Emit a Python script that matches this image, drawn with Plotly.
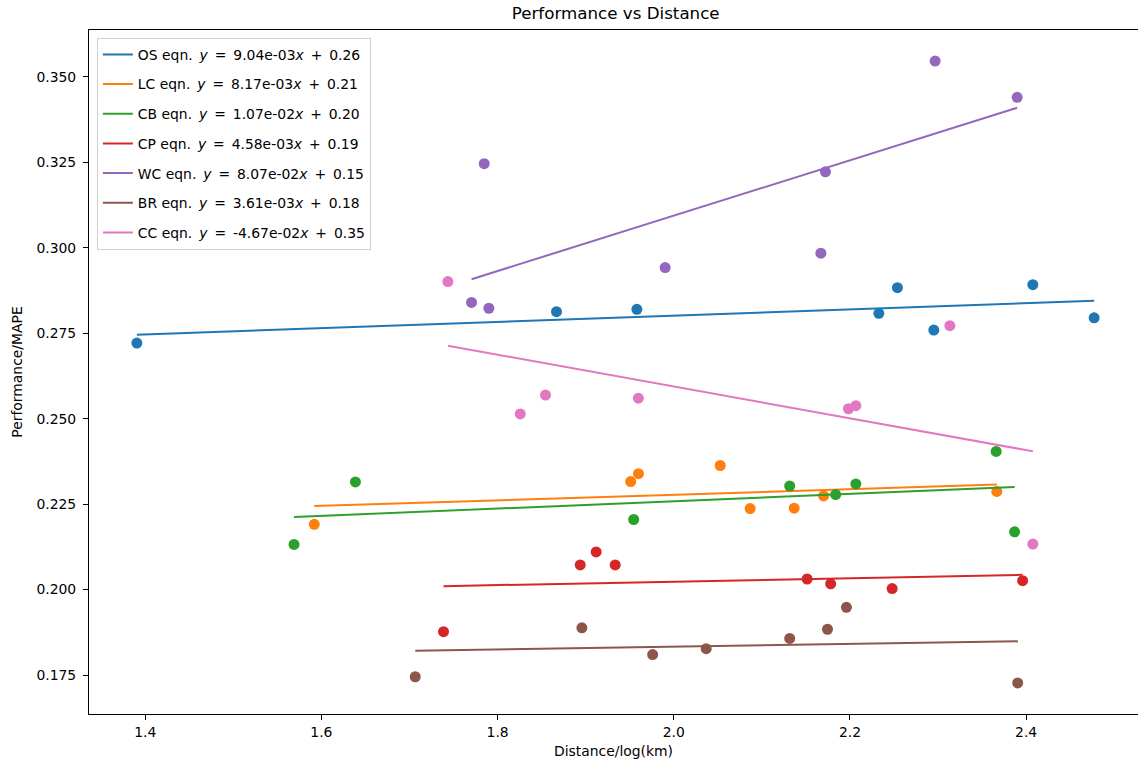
import numpy as np
import plotly.graph_objects as go

# ---- data ----
series_names = ["OS", "LC", "CB", "CP", "WC", "BR", "CC"]
series_colors = ["#1f77b4", "#ff7f0e", "#2ca02c", "#d62728", "#9467bd", "#8c564b", "#e377c2"]
eq_slopes_txt = ["9.04e-03", "8.17e-03", "1.07e-02", "4.58e-03", "8.07e-02", "3.61e-03", "-4.67e-02"]
eq_icept_txt = ["0.26", "0.21", "0.20", "0.19", "0.15", "0.18", "0.35"]

os_x = [1.3905, 1.8669, 1.9581, 2.2328, 2.2539, 2.2952, 2.4076, 2.4772]
os_y = [0.2721, 0.2813, 0.2820, 0.2808, 0.2883, 0.2759, 0.2892, 0.2795]

lc_x = [1.5919, 1.9511, 1.9599, 2.0527, 2.0867, 2.1367, 2.1701, 2.3667]
lc_y = [0.2191, 0.2316, 0.2339, 0.2363, 0.2237, 0.2238, 0.2274, 0.2287]

cb_x = [1.5689, 1.6386, 1.9545, 2.1316, 2.1838, 2.2067, 2.3660, 2.3869]
cb_y = [0.2132, 0.2315, 0.2205, 0.2303, 0.2278, 0.2309, 0.2404, 0.2169]

cp_x = [1.7386, 1.8938, 1.9119, 1.9335, 2.1514, 2.1781, 2.2479, 2.3960]
cp_y = [0.1877, 0.2072, 0.2110, 0.2072, 0.2031, 0.2017, 0.2003, 0.2026]

wc_x = [1.7704, 1.7848, 1.7901, 1.9902, 2.1670, 2.1722, 2.2967, 2.3898]
wc_y = [0.2840, 0.3246, 0.2823, 0.2942, 0.2984, 0.3222, 0.3546, 0.3440]

br_x = [1.7065, 1.8957, 1.9760, 2.0368, 2.1316, 2.1745, 2.1960, 2.3904]
br_y = [0.1745, 0.1888, 0.1810, 0.1827, 0.1857, 0.1884, 0.1948, 0.1727]

cc_x = [1.7436, 1.8257, 1.8544, 1.9598, 2.1983, 2.2067, 2.3134, 2.4076]
cc_y = [0.2901, 0.2514, 0.2569, 0.2560, 0.2529, 0.2538, 0.2772, 0.2133]

x_tick_vals = [1.4, 1.6, 1.8, 2.0, 2.2, 2.4]
y_tick_vals = [0.175, 0.200, 0.225, 0.250, 0.275, 0.300, 0.325, 0.350]

all_x = [os_x, lc_x, cb_x, cp_x, wc_x, br_x, cc_x]
all_y = [os_y, lc_y, cb_y, cp_y, wc_y, br_y, cc_y]

SP = "\u2002"
legend_labels = [f"{n} eqn.{SP}<i>y</i>{SP}={SP}{s}<i>x</i>{SP}+{SP}{b}"
                 for n, s, b in zip(series_names, eq_slopes_txt, eq_icept_txt)]

FONT = "DejaVu Sans"
W, H = 1138, 765
ML, MT, MB = 89.4, 29.9, 50.6
full_right_px = 1142.0  # the original axes extend a little past the image edge

fig = go.Figure()
for name, color, label, xs, ys in zip(series_names, series_colors, legend_labels, all_x, all_y):
    xs = np.asarray(xs)
    ys = np.asarray(ys)
    fig.add_trace(go.Scatter(
        x=xs, y=ys, mode="markers", legendgroup=name, showlegend=False,
        marker=dict(color=color, size=11, line=dict(width=0)),
        hoverinfo="x+y", name=name))
    coef = np.polyfit(xs, ys, 1)
    xl = np.sort(xs)
    fig.add_trace(go.Scatter(
        x=xl, y=np.polyval(coef, xl), mode="lines", legendgroup=name,
        line=dict(color=color, width=2), name=label))

# matplotlib-style 5% margins
xmin = min(min(v) for v in all_x); xmax = max(max(v) for v in all_x)
ymin = min(min(v) for v in all_y); ymax = max(max(v) for v in all_y)
xpad = 0.05 * (xmax - xmin); ypad = 0.05 * (ymax - ymin)
x_lo, x_hi_full = xmin - xpad, xmax + xpad
x_hi = x_lo + (x_hi_full - x_lo) * (W - ML) / (full_right_px - ML)

fig.update_layout(
    width=W, height=H,
    margin=dict(l=ML, r=0, t=MT, b=MB, pad=0),
    paper_bgcolor="white", plot_bgcolor="white",
    font=dict(family=FONT, size=13.9, color="black"),
    title=dict(text="Performance vs Distance", x=615.7 / W, xref="container", xanchor="center",
               y=1 - 13.5 / H, yref="container", yanchor="middle",
               font=dict(family=FONT, size=16.7, color="black")),
    showlegend=True,
    legend=dict(x=0.0075, y=0.9885, xanchor="left", yanchor="top",
                bgcolor="rgba(255,255,255,0.8)", bordercolor="#d0d0d0", borderwidth=1,
                font=dict(family=FONT, size=13.9, color="black"),
                traceorder="grouped", tracegroupgap=8.6),
    xaxis=dict(range=[x_lo, x_hi], tickmode="array", tickvals=x_tick_vals,
               ticktext=[f"{v:.1f}" for v in x_tick_vals],
               showgrid=False, zeroline=False, showline=True, linecolor="black", linewidth=1.1,
               mirror=True, ticks="outside", ticklen=5, tickwidth=1.1, tickcolor="black",
               title=dict(text="Distance/log(km)", standoff=7,
                          font=dict(family=FONT, size=13.9, color="black")),
               tickfont=dict(family=FONT, size=13.9, color="black")),
    yaxis=dict(range=[ymin - ypad, ymax + ypad], tickmode="array", tickvals=y_tick_vals,
               ticktext=[f"{v:.3f}" for v in y_tick_vals],
               showgrid=False, zeroline=False, showline=True, linecolor="black", linewidth=1.1,
               mirror=False, ticks="outside", ticklen=5, tickwidth=1.1, tickcolor="black",
               ticklabelstandoff=4,
               title=dict(text="Performance/MAPE", standoff=10,
                          font=dict(family=FONT, size=13.9, color="black")),
               tickfont=dict(family=FONT, size=13.9, color="black")),
)

fig.write_html("out.html")
